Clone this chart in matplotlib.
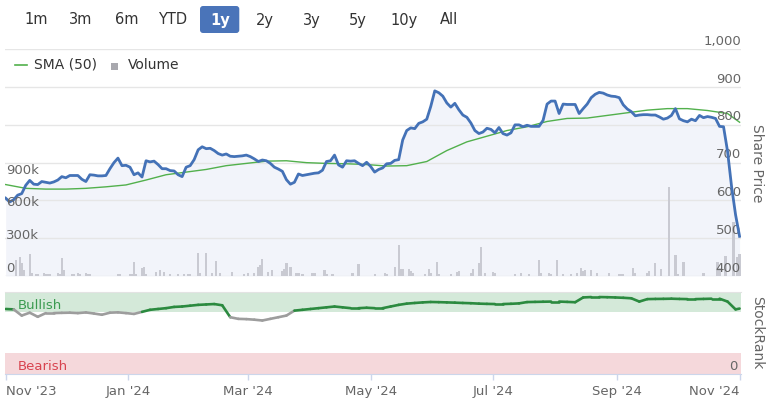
import numpy as np
import pandas as pd
import matplotlib
matplotlib.use("Agg")
import matplotlib.pyplot as plt
import matplotlib.dates as mdates
from matplotlib.lines import Line2D
from matplotlib.patches import FancyBboxPatch, Rectangle
from matplotlib.collections import LineCollection
from matplotlib.transforms import blended_transform_factory

# ---- data ----
price = [606, 596, 602, 614, 618, 640, 653, 643, 642, 650,
         648, 646, 649, 654, 663, 660, 666, 666, 666, 656,
         650, 668, 667, 665, 665, 666, 684, 700, 712, 692,
         693, 688, 668, 673, 662, 705, 702, 704, 695, 684,
         684, 679, 678, 668, 663, 688, 692, 708, 734, 742,
         737, 738, 732, 724, 720, 723, 717, 716, 717, 718,
         720, 716, 710, 703, 707, 705, 698, 688, 683, 677,
         655, 643, 648, 670, 666, 668, 670, 672, 673, 680,
         703, 705, 720, 694, 688, 705, 704, 705, 698, 692,
         701, 690, 675, 682, 686, 697, 698, 706, 708, 760,
         785, 792, 790, 804, 808, 815, 849, 890, 885, 876,
         858, 847, 857, 840, 826, 820, 805, 785, 777, 781,
         791, 788, 779, 793, 777, 773, 779, 800, 800, 795,
         799, 796, 796, 796, 812, 855, 863, 863, 830, 855,
         854, 854, 854, 830, 843, 855, 872, 881, 886, 884,
         879, 876, 875, 872, 853, 842, 835, 824, 826, 827,
         827, 826, 826, 821, 815, 818, 825, 843, 816, 811,
         808, 815, 811, 825, 819, 822, 820, 817, 796, 795,
         730, 637, 562, 505]
price_dates = pd.date_range("2023-11-01", periods=len(price), freq="2D")

sma = [642, 632, 630, 630, 632, 636, 641, 654, 668, 675,
       682, 692, 698, 704, 705, 700, 698, 697, 695, 691,
       692, 703, 732, 755, 770, 785, 795, 809, 817, 818,
       825, 832, 839, 843, 843, 838, 830, 807]
sma_dates = list(pd.date_range("2023-11-01", periods=37, freq="10D")) + [pd.Timestamp("2024-11-01")]

rank = [79, 78.5, 71, 74.5, 69.5, 74, 74, 74.3, 74.5, 74,
        74.8, 73.5, 72, 74.5, 74.9, 74, 73, 75.5, 78, 79,
        80, 81.5, 82, 83, 84, 84.5, 85, 83.5, 69, 67,
        66.7, 66, 65, 67, 69, 71, 77, 78, 79, 80,
        81, 82, 81, 80, 80, 80.5, 80, 80, 82, 84,
        85.5, 86.3, 87, 87.5, 87.3, 87, 86.7, 86.3, 86, 85.5,
        85.2, 85, 85, 85.3, 85.8, 87.4, 87.6, 87.8, 88, 88,
        87.6, 87.2, 93, 93.5, 93.5, 93.3, 93, 92.6, 92, 88,
        91, 91.2, 91.3, 91.5, 91.2, 91, 91, 91.2, 91.5, 91.5,
        88, 78.5, 79.5]
rank_dates = list(pd.date_range("2023-11-01", periods=92, freq="4D")) + [pd.Timestamp("2024-11-01")]

vol_dates = ["2023-11-06", "2023-11-08", "2023-11-09", "2023-11-10", "2023-11-13", "2023-11-14",
             "2023-11-16", "2023-11-17", "2023-11-20", "2023-11-21", "2023-11-22", "2023-11-23",
             "2023-11-27", "2023-11-28", "2023-11-29", "2023-11-30", "2023-12-04", "2023-12-05",
             "2023-12-07", "2023-12-08", "2023-12-11", "2023-12-12", "2023-12-13", "2023-12-27",
             "2023-12-28", "2024-01-02", "2024-01-03", "2024-01-04", "2024-01-05", "2024-01-08",
             "2024-01-09", "2024-01-10", "2024-01-15", "2024-01-17", "2024-01-19", "2024-01-22",
             "2024-01-26", "2024-01-29", "2024-01-31", "2024-02-01", "2024-02-05", "2024-02-06",
             "2024-02-09", "2024-02-12", "2024-02-14", "2024-02-16", "2024-02-22", "2024-02-28",
             "2024-03-01", "2024-03-04", "2024-03-06", "2024-03-07", "2024-03-08", "2024-03-11",
             "2024-03-13", "2024-03-18", "2024-03-19", "2024-03-20", "2024-03-22", "2024-03-25",
             "2024-03-26", "2024-03-28", "2024-04-02", "2024-04-03", "2024-04-08", "2024-04-09",
             "2024-04-12", "2024-04-22", "2024-04-25", "2024-05-03", "2024-05-08", "2024-05-09",
             "2024-05-13", "2024-05-15", "2024-05-16", "2024-05-17", "2024-05-20", "2024-05-21",
             "2024-05-22", "2024-05-28", "2024-05-30", "2024-05-31", "2024-06-03", "2024-06-04",
             "2024-06-10", "2024-06-13", "2024-06-14", "2024-06-20", "2024-06-21", "2024-06-24",
             "2024-06-25", "2024-06-27", "2024-07-01", "2024-07-02", "2024-07-12", "2024-07-15",
             "2024-07-19", "2024-07-24", "2024-07-25", "2024-07-29", "2024-07-30", "2024-08-02",
             "2024-08-05", "2024-08-09", "2024-08-12", "2024-08-14", "2024-08-15", "2024-08-16",
             "2024-08-19", "2024-08-22", "2024-08-28", "2024-09-02", "2024-09-03", "2024-09-04",
             "2024-09-09", "2024-09-10", "2024-09-16", "2024-09-17", "2024-09-20", "2024-09-23",
             "2024-09-27", "2024-09-30", "2024-10-01", "2024-10-04", "2024-10-14", "2024-10-21",
             "2024-10-22", "2024-10-25", "2024-10-29", "2024-10-31", "2024-11-01"]
vol = [150, 175, 120, 60, 200, 25,
       20, 15, 25, 20, 15, 20,
       30, 20, 170, 60, 20, 15,
       25, 20, 25, 20, 15, 20,
       15, 20, 20, 130, 15, 75,
       85, 20, 35, 60, 35, 15,
       15, 20, 15, 20, 210, 30,
       210, 25, 140, 25, 35, 20,
       25, 25, 85, 100, 155, 35,
       60, 50, 65, 117, 80, 25,
       25, 15, 25, 25, 60, 15,
       15, 25, 110, 20, 25, 15,
       85, 285, 62, 68, 68, 45,
       25, 15, 68, 25, 130, 15,
       15, 35, 45, 25, 62, 117,
       270, 25, 35, 25, 20, 25,
       15, 145, 25, 25, 20, 145,
       20, 15, 25, 77, 45, 52,
       60, 25, 25, 15, 15, 20,
       77, 25, 25, 45, 120, 65,
       820, 195, 20, 130, 25, 130,
       70, 185, 500, 180, 200]  # thousands

price_ticks = [400, 500, 600, 700, 800, 900, 1000]
vol_ticks = [0, 300, 600, 900]
month_ticks = ["2023-11-01", "2024-01-01", "2024-03-01", "2024-05-01",
               "2024-07-01", "2024-09-01", "2024-11-01"]
month_labels = ["Nov '23", "Jan '24", "Mar '24", "May '24", "Jul '24", "Sep '24", "Nov '24"]
buttons = ["1m", "3m", "6m", "YTD", "1y", "2y", "3y", "5y", "10y", "All"]
button_x = [36, 81, 127, 173, 220, 265, 312, 358, 404, 449]
selected = "1y"

# ---- styling ----
W, H = 770, 399
BLUE = "#4472b7"
SMA_GREEN = "#52b04c"
GRID = "#e6e6e6"
LABEL = "#666666"


def fx(x):
    return x / W


def fy(y):
    return 1 - y / H


fig = plt.figure(figsize=(W / 100, H / 100), dpi=100)
x0, x1 = pd.Timestamp("2023-11-01") - pd.Timedelta(hours=8), pd.Timestamp("2024-11-01") + pd.Timedelta(hours=17)

# price panel
ax = fig.add_axes([fx(5), fy(276), fx(736), (276 - 49.3) / H])
axv = ax.twinx()  # volume scale, its bars are drawn inside ax
ax.fill_between(price_dates, price, 400, color="#f2f4fa", lw=0, zorder=0.2)
ax.plot(price_dates, price, color=BLUE, lw=2.0, zorder=4, solid_joinstyle="round")
ax.plot(sma_dates, sma, color=SMA_GREEN, lw=1.0, zorder=3)
ax.set_yticks(price_ticks)
ax.grid(axis="y", color=GRID, lw=1)
ax.set_axisbelow(True)
ax.tick_params(left=False, right=False, bottom=False, labelleft=False, labelright=False,
               labelbottom=False)
for s in ax.spines.values():
    s.set_visible(False)
for p in price_ticks:
    ax.annotate(f"{p:,}", xy=(1, p), xycoords=("axes fraction", "data"), xytext=(0, 8),
                textcoords="offset pixels", ha="right", va="center", color=LABEL, fontsize=9.5,
                annotation_clip=False)

axv.set_ylim(0, 300 * 226.7 / 32.5)
axv.axis("off")
ax.bar(pd.to_datetime(vol_dates), vol, width=1.1, color="#c9cad2", lw=0, zorder=2,
       transform=blended_transform_factory(ax.transData, axv.transData))
ax.set_xlim(x0, x1)
ax.set_ylim(400, 1000)
for v in vol_ticks:
    axv.annotate(f"{v}k" if v else "0", xy=(0, v), xycoords=("axes fraction", "data"), xytext=(1, 8),
                 textcoords="offset pixels", ha="left", va="center", color=LABEL, fontsize=9.5,
                 annotation_clip=False)

fig.text(fx(757), fy(163), "Share Price", rotation=270, ha="center", va="center",
         color=LABEL, fontsize=10)

# legend
fig.add_artist(Line2D([fx(15), fx(27)], [fy(65), fy(65)], color=SMA_GREEN, lw=1.2))
fig.text(fx(34), fy(65), "SMA (50)", ha="left", va="center", color="#333333", fontsize=10)
fig.add_artist(Rectangle((fx(111), fy(70)), fx(7), 7 / H, color="#a8a8ae", lw=0))
fig.text(fx(128), fy(65), "Volume", ha="left", va="center", color="#333333", fontsize=10)

# range buttons
for b, bx in zip(buttons, button_x):
    if b == selected:
        fig.add_artist(FancyBboxPatch((2.00, (H - 33) / 100), 0.393, 0.27,
                                      boxstyle="round,pad=0,rounding_size=0.03",
                                      transform=fig.dpi_scale_trans, color="#4a74b9", lw=0))
        fig.text(fx(bx), fy(20), b, ha="center", va="center", color="white",
                 fontsize=10.5, fontweight="bold")
    else:
        fig.text(fx(bx), fy(20), b, ha="center", va="center", color="#333333", fontsize=10.5)

# StockRank panel
axr = fig.add_axes([fx(5), fy(374), fx(736), (374 - 291.7) / H])
axr.axhspan(75, 100, color="#d4e9d9", lw=0)
axr.axhspan(0, 25, color="#f5d8db", lw=0)
xs = mdates.date2num(pd.to_datetime(rank_dates))
pts = np.column_stack([xs, rank])
segs = np.stack([pts[:-1], pts[1:]], axis=1)
seg_cols = ["#2b8a3f" if (a + b) / 2 >= 75 else "#9d9d9d" for a, b in zip(rank[:-1], rank[1:])]
axr.add_collection(LineCollection(segs, colors=seg_cols, lw=1.9, capstyle="round", joinstyle="round"))
axr.set_xlim(x0, x1)
axr.set_ylim(0, 100)
axr.set_yticks([])
for k in ["left", "right"]:
    axr.spines[k].set_visible(False)
axr.spines["top"].set_color("#e3e3e3")
axr.spines["bottom"].set_color("#ccd6eb")
axr.annotate("Bullish", xy=(0, 75), xycoords=("axes fraction", "data"), xytext=(13, 7),
             textcoords="offset pixels", ha="left", va="center", color="#3b9b50", fontsize=9.5)
axr.annotate("Bearish", xy=(0, 0), xycoords=("axes fraction", "data"), xytext=(13, 7.5),
             textcoords="offset pixels", ha="left", va="center", color="#d8434f", fontsize=9.5)
axr.annotate("0", xy=(1, 0), xycoords=("axes fraction", "data"), xytext=(-3, 7.5),
             textcoords="offset pixels", ha="right", va="center", color=LABEL, fontsize=9.5)
axr.set_xticks(pd.to_datetime(month_ticks))
axr.set_xticklabels(month_labels)
axr.tick_params(axis="x", length=4.5, width=1, color="#ccd6eb", pad=3.5, labelsize=9.5,
                labelcolor=LABEL)
tl = axr.get_xticklabels()
tl[0].set_ha("left")
tl[-1].set_ha("right")

fig.text(fx(757), fy(333), "StockRank", rotation=270, ha="center", va="center",
         color=LABEL, fontsize=10)

fig.savefig("out.png", dpi=100)
